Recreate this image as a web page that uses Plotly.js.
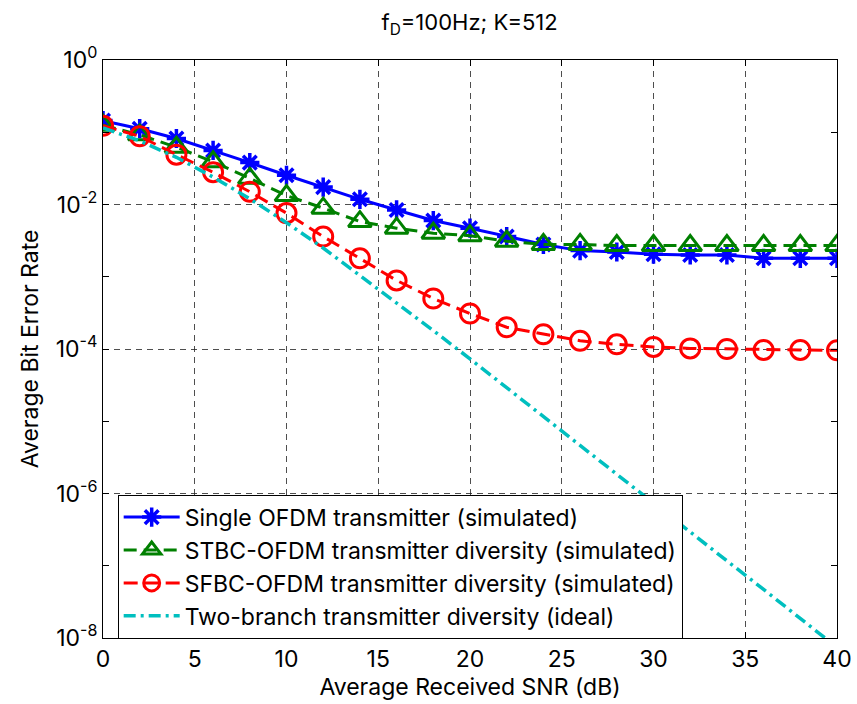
<!DOCTYPE html>
<html>
<head>
<meta charset="utf-8">
<script src="https://cdn.plot.ly/plotly-3.0.1.min.js"></script>
<style>html,body{margin:0;padding:0;background:#fff}#chart{width:857px;height:704px}</style>
</head>
<body>
<div id="chart"></div>
<script>
const snr = [0,2,4,6,8,10,12,14,16,18,20,22,24,26,28,30,32,34,36,38,40];
const berSingle = [0.145,0.112,0.082,0.056,0.038,0.0254,0.0174,0.0118,0.0084,0.006,0.0047,0.0036,0.0028,0.0023,0.0022,0.00205,0.002,0.002,0.0018,0.0018,0.0018];
const berSTBC = [0.125,0.092,0.062,0.039,0.023,0.0133,0.0089,0.0058,0.0047,0.004,0.0037,0.0031,0.0028,0.0028,0.0027,0.0027,0.0027,0.0027,0.0027,0.0027,0.0027];
const berSFBC = [0.123,0.088,0.049,0.028,0.015,0.0076,0.0036,0.0018,0.00089,0.0005,0.00031,0.0002,0.00016,0.00013,0.000116,0.000107,0.000102,0.0001,0.000097,0.000097,0.000096];
const berIdeal = [0.115,0.076,0.045,0.024,0.012,0.0056,0.0025,0.00105,0.00044,0.00018,7.3e-5,2.9e-5,1.17e-5,4.6e-6,1.85e-6,7.4e-7,2.9e-7,1.17e-7,4.7e-8,1.85e-8,7.4e-9];
const seriesNames = ['Single OFDM transmitter (simulated)','STBC-OFDM transmitter diversity (simulated)','SFBC-OFDM transmitter diversity (simulated)','Two-branch transmitter diversity (ideal)'];
const yTickVals = [1e-8,1e-6,1e-4,1e-2,1];
const yTickText = ['10<sup>-8</sup>','10<sup>-6</sup>','10<sup>-4</sup>','10<sup>-2</sup>','10<sup>0</sup>'];
const yMinorVals = [1e-7,1e-5,1e-3,1e-1];
const xTickVals = [0,5,10,15,20,25,30,35,40];

const FONT = 'Inter, Liberation Sans, Arial, sans-serif';
const traces = [
  {x: snr, y: berSingle, name: seriesNames[0], mode: 'lines+markers', legendgroup: 'a',
   line: {color: '#0000FF', width: 3},
   marker: {symbol: 'asterisk-open', size: 16, color: '#0000FF', line: {color: '#0000FF', width: 3.5}}},
  {x: snr, y: berSTBC, name: seriesNames[1], mode: 'lines+markers', legendgroup: 'b',
   line: {color: '#008000', width: 3, dash: '13px,7px'},
   marker: {symbol: 'triangle-up-open', size: 20, color: '#008000', line: {color: '#008000', width: 3}}},
  {x: snr, y: berSFBC, name: seriesNames[2], mode: 'lines+markers', legendgroup: 'c',
   line: {color: '#FF0000', width: 3, dash: '14px,7px'},
   marker: {symbol: 'circle-open', size: 19, color: '#FF0000', line: {color: '#FF0000', width: 3}}},
  {x: snr, y: berIdeal, name: seriesNames[3], mode: 'lines', legendgroup: 'd',
   line: {color: '#00BFBF', width: 3.5, dash: '12px,5px,3px,5px'}}
];

const layout = {
  width: 857, height: 704,
  margin: {l: 103, r: 20, t: 60, b: 66},
  paper_bgcolor: '#fff', plot_bgcolor: '#fff',
  font: {family: FONT, size: 23, color: '#000'},
  title: {text: 'f<sub>D</sub>=100Hz; K=512', x: 0.548, xanchor: 'center', y: 0.968, yanchor: 'middle',
          font: {family: FONT, size: 22, color: '#000'}},
  showlegend: true,
  legend: {x: 0.02, xanchor: 'left', y: 0.248, yanchor: 'top',
           bgcolor: '#fff', bordercolor: '#000', borderwidth: 1,
           font: {family: FONT, size: 23, color: '#000'},
           itemwidth: 56, tracegroupgap: 0, traceorder: 'normal'},
  xaxis: {
    range: [0, 40], tickmode: 'array', tickvals: xTickVals,
    ticks: 'inside', ticklen: 6, tickwidth: 1, tickcolor: '#000',
    showline: true, linecolor: '#000', linewidth: 1, mirror: 'ticks',
    showgrid: true, gridcolor: '#222', gridwidth: 0.8, griddash: '6px,5px',
    zeroline: false,
    tickfont: {family: FONT, size: 23, color: '#000'},
    title: {text: 'Average Received SNR (dB)', font: {family: FONT, size: 23, color: '#000'}, standoff: 6}
  },
  yaxis: {
    type: 'log', range: [-8, 0], tickmode: 'array', tickvals: yTickVals, ticktext: yTickText,
    ticks: 'inside', ticklen: 6, tickwidth: 1, tickcolor: '#000',
    showline: true, linecolor: '#000', linewidth: 1, mirror: 'ticks',
    showgrid: true, gridcolor: '#222', gridwidth: 0.8, griddash: '6px,5px',
    zeroline: false,
    minor: {tickmode: 'array', tickvals: yMinorVals, ticks: 'inside', ticklen: 6, tickcolor: '#000', showgrid: false},
    tickfont: {family: FONT, size: 23, color: '#000'},
    title: {text: 'Average Bit Error Rate', font: {family: FONT, size: 23, color: '#000'}, standoff: 10}
  }
};

Plotly.newPlot('chart', traces, layout, {displayModeBar: false, staticPlot: true});
</script>
</body>
</html>
